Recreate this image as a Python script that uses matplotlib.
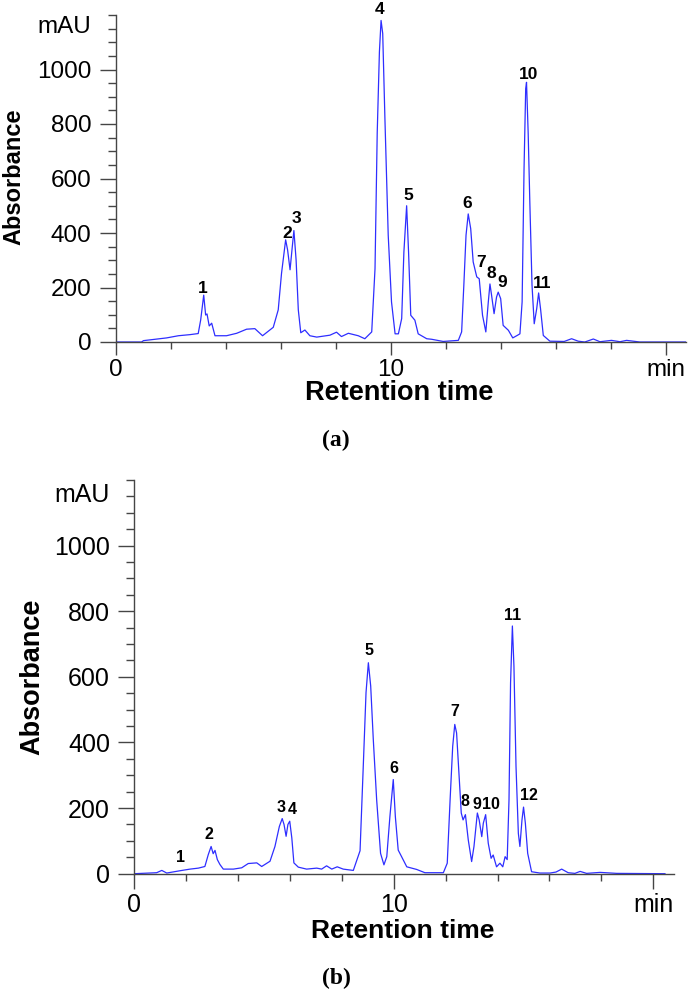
import matplotlib
matplotlib.use("Agg")
import matplotlib.pyplot as plt
from matplotlib.ticker import MultipleLocator, FixedLocator

# ----------------------
# chromatogram (a)
# ----------------------
time_a = [0, 0.93, 1.0, 1.84, 2.27, 2.69, 2.99, 3.08, 3.19, 3.26,
          3.31, 3.39, 3.48, 3.6, 4.02, 4.39, 4.75, 5.05, 5.33, 5.72,
          5.90, 6.02, 6.17, 6.24, 6.33, 6.40, 6.47, 6.55, 6.63, 6.72,
          6.87, 7.05, 7.3, 7.78, 8.02, 8.2, 8.45, 8.81, 9.05, 9.30,
          9.42, 9.50, 9.58, 9.64, 9.70, 9.78, 9.90, 10.02, 10.15, 10.27,
          10.39, 10.47, 10.57, 10.64, 10.72, 10.87, 10.99, 11.30, 11.48, 11.9,
          12.45, 12.57, 12.65, 12.73, 12.81, 12.9, 12.99, 13.12, 13.21, 13.33,
          13.45, 13.54, 13.6, 13.66, 13.75, 13.84, 13.9, 13.99, 14.08, 14.27,
          14.43, 14.59, 14.69, 14.77, 14.84, 14.90, 14.93, 14.99, 15.05, 15.13,
          15.21, 15.30, 15.37, 15.44, 15.54, 15.78, 16.3, 16.57, 16.81, 17.05,
          17.36, 17.6, 18.02, 18.33, 18.57, 19.05, 20.72]
abs_a = [0, 0, 5, 15, 23, 27, 31, 81, 172, 99,
         103, 59, 69, 23, 23, 32, 47, 49, 23, 54,
         118, 252, 375, 338, 265, 338, 409, 301, 118, 34,
         44, 23, 18, 25, 36, 20, 32, 23, 12, 37,
         269, 767, 1065, 1180, 1132, 820, 392, 147, 30, 30,
         86, 330, 500, 330, 98, 80, 30, 12, 10, 2,
         6, 37, 208, 392, 470, 416, 294, 239, 232, 98,
         37, 147, 213, 171, 104, 165, 183, 159, 61, 43,
         15, 24, 30, 147, 637, 930, 953, 767, 514, 208,
         67, 122, 180, 122, 24, 3, 2, 12, 3, 0,
         11, 1, 6, 1, 6, 0, 0]
peak_labels_a = ["1", "2", "3", "4", "5", "6", "7", "8", "9", "10", "11"]
peak_x_a = [3.15, 6.21, 6.56, 9.58, 10.62, 12.78, 13.27, 13.65, 14.04, 14.99, 15.49]
peak_y_a = [195, 400, 452, 1219, 537, 507, 290, 253, 217, 980, 213]

# ----------------------
# chromatogram (b)
# ----------------------
time_b = [0, 0.86, 1.06, 1.25, 1.76, 2.15, 2.47, 2.72, 2.85, 2.96,
          3.04, 3.11, 3.2, 3.3, 3.43, 3.82, 4.14, 4.39, 4.72, 4.91,
          5.23, 5.42, 5.59, 5.70, 5.77, 5.85, 5.92, 5.99, 6.07, 6.15,
          6.32, 6.64, 7.03, 7.22, 7.41, 7.61, 7.82, 8.05, 8.44, 8.70,
          8.82, 8.93, 9.02, 9.11, 9.21, 9.34, 9.49, 9.62, 9.73, 9.85,
          9.98, 10.06, 10.17, 10.30, 10.5, 10.88, 11.2, 11.91, 12.06, 12.17,
          12.27, 12.35, 12.42, 12.51, 12.6, 12.67, 12.76, 12.87, 13.0, 13.09,
          13.22, 13.29, 13.39, 13.45, 13.54, 13.64, 13.75, 13.83, 13.96, 14.09,
          14.2, 14.29, 14.37, 14.44, 14.5, 14.57, 14.63, 14.71, 14.80, 14.86,
          14.94, 15.0, 15.07, 15.16, 15.31, 15.63, 16.02, 16.25, 16.47, 16.72,
          16.98, 17.18, 17.43, 17.95, 18.59, 20.45]
abs_b = [0, 3, 10, 2, 9, 14, 17, 22, 58, 83,
         61, 71, 43, 28, 14, 14, 18, 31, 33, 22,
         38, 83, 144, 168, 150, 114, 150, 160, 109, 33,
         20, 14, 17, 14, 24, 14, 21, 14, 10, 70,
         320, 552, 643, 572, 409, 225, 62, 27, 52, 174,
         287, 174, 72, 52, 21, 13, 3, 3, 32, 225,
         388, 455, 429, 307, 185, 164, 180, 103, 37, 83,
         185, 164, 113, 154, 180, 93, 47, 57, 21, 32,
         21, 52, 43, 225, 582, 755, 633, 327, 123, 83,
         164, 203, 154, 62, 6, 2, 2, 5, 14, 3,
         1, 7, 1, 4, 1, 0]
peak_labels_b = ["1", "2", "3", "4", "5", "6", "7", "8", "9", "10", "11", "12"]
peak_x_b = [1.78, 2.88, 5.66, 6.07, 9.03, 10.0, 12.37, 12.74, 13.21, 13.74, 14.57, 15.2]
peak_y_b = [48, 118, 202, 195, 681, 320, 495, 220, 210, 210, 788, 238]

y_ticks = [0, 200, 400, 600, 800, 1000]
x_ticks = [0, 10, 20]
x_ticklabels = ["0", "10", "min"]

plt.rcParams["font.family"] = ["Liberation Sans", "DejaVu Sans"]
line_color = "#2e2eff"
axis_color = "#454545"

fig = plt.figure(figsize=(6.88, 9.92), dpi=100)
W, H = 688.0, 992.0


def draw_panel(rect, xmax, t, a, labels, lx, ly, fs, lab_fs, xmaj_len, mAU_off):
    ax = fig.add_axes(rect)
    ax.plot(t, a, color=line_color, linewidth=0.9)
    ax.set_xlim(0, xmax)
    ax.set_ylim(0, 1200)
    for s in ["top", "right"]:
        ax.spines[s].set_visible(False)
    for s in ["left", "bottom"]:
        ax.spines[s].set_color(axis_color)
        ax.spines[s].set_linewidth(1.0)
    ax.set_xticks(x_ticks)
    ax.set_xticklabels(x_ticklabels)
    ax.xaxis.set_minor_locator(FixedLocator([2, 4, 6, 8, 12, 14, 16, 18]))
    ax.set_yticks(y_ticks)
    ax.set_yticklabels([str(v) for v in y_ticks])
    ax.yaxis.set_minor_locator(MultipleLocator(50))
    ax.tick_params(axis="x", which="major", direction="out", length=xmaj_len,
                   width=1.0, color=axis_color, labelsize=fs, pad=3)
    ax.tick_params(axis="x", which="minor", direction="out", length=5,
                   width=1.0, color=axis_color)
    ax.tick_params(axis="y", which="major", direction="out", length=11.5,
                   width=1.0, color=axis_color, labelsize=fs, pad=6)
    ax.tick_params(axis="y", which="minor", direction="out", length=5.8,
                   width=1.0, color=axis_color)
    ax.annotate("mAU", xy=(0, 1155), xycoords=("axes fraction", "data"),
                xytext=(mAU_off, 0), textcoords="offset points",
                ha="right", va="center", fontsize=fs)
    for s, x, y in zip(labels, lx, ly):
        ax.text(x, y, s, ha="center", va="center", fontsize=lab_fs,
                fontweight="bold", clip_on=False)
    return ax


# panel (a)
draw_panel([116 / W, 1 - 342 / H, 570 / W, 327 / H], 20.73,
           time_a, abs_a, peak_labels_a, peak_x_a, peak_y_a,
           17.5, 12.5, 9.4, -18)
fig.text(14 / W, 1 - 177 / H, "Absorbance", rotation=90, ha="center",
         va="center", fontsize=17, fontweight="bold")
fig.text(399 / W, 1 - 393 / H, "Retention time", ha="center", va="center",
         fontsize=19.5, fontweight="bold")
fig.text(336 / W, 1 - 440 / H, "(a)", ha="center", va="center",
         fontsize=17, fontweight="bold", family="Liberation Serif")

# panel (b)
draw_panel([134.3 / W, 1 - 873.7 / H, 540 / W, 393.7 / H], 20.81,
           time_b, abs_b, peak_labels_b, peak_x_b, peak_y_b,
           18, 11.5, 10.8, -17.5)
fig.text(32 / W, 1 - 677 / H, "Absorbance", rotation=90, ha="center",
         va="center", fontsize=19.5, fontweight="bold")
fig.text(403 / W, 1 - 931 / H, "Retention time", ha="center", va="center",
         fontsize=19, fontweight="bold")
fig.text(336 / W, 1 - 978 / H, "(b)", ha="center", va="center",
         fontsize=17, fontweight="bold", family="Liberation Serif")

fig.savefig("out.png", dpi=100, facecolor="white")
plt.close(fig)
